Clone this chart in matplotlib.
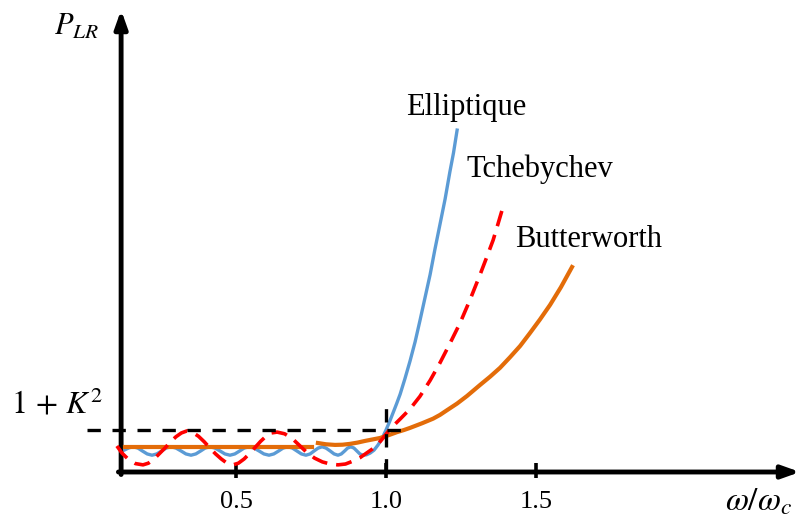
import matplotlib.pyplot as plt
import numpy as np

plt.rcParams['mathtext.fontset'] = 'stix'

# eje x: w/wc , eje y: P_LR (unidades arbitrarias, nivel 1+K^2 = 1)
w_eliptico = [0.13, 0.143, 0.157, 0.173, 0.188, 0.204, 0.22, 0.236, 0.252, 0.267,
              0.283, 0.3, 0.317, 0.333, 0.35, 0.366, 0.382, 0.397, 0.413, 0.43,
              0.447, 0.463, 0.48, 0.496, 0.512, 0.527, 0.543, 0.56, 0.577, 0.593,
              0.61, 0.626, 0.642, 0.657, 0.673, 0.688, 0.703, 0.718, 0.733, 0.747,
              0.76, 0.774, 0.787, 0.8, 0.814, 0.827, 0.84, 0.851, 0.862, 0.872,
              0.883, 0.893, 0.903, 0.913, 0.923, 0.935, 0.947, 0.96, 0.973, 0.987,
              1.0, 1.012, 1.023, 1.035, 1.047, 1.063, 1.08, 1.097, 1.113, 1.13,
              1.147, 1.163, 1.18, 1.197, 1.213, 1.225, 1.237]
p_eliptico = [0.53, 0.575, 0.6, 0.57, 0.5, 0.43, 0.4, 0.43, 0.5, 0.57,
              0.6, 0.57, 0.5, 0.43, 0.4, 0.43, 0.5, 0.57, 0.6, 0.57,
              0.5, 0.43, 0.4, 0.43, 0.5, 0.57, 0.6, 0.57, 0.5, 0.43,
              0.4, 0.43, 0.5, 0.57, 0.6, 0.57, 0.5, 0.43, 0.4, 0.43,
              0.5, 0.57, 0.6, 0.57, 0.5, 0.43, 0.4, 0.43, 0.5, 0.57,
              0.6, 0.57, 0.5, 0.43, 0.4, 0.41, 0.45, 0.52, 0.64, 0.8,
              1.0, 1.2, 1.4, 1.62, 1.85, 2.22, 2.64, 3.1, 3.6, 4.15,
              4.7, 5.3, 5.9, 6.5, 7.15, 7.6, 8.14]

w_tcheby = [0.103, 0.12, 0.14, 0.165, 0.19, 0.208, 0.227, 0.245, 0.263, 0.282,
            0.3, 0.318, 0.337, 0.356, 0.375, 0.394, 0.413, 0.432, 0.451, 0.47,
            0.49, 0.508, 0.527, 0.545, 0.563, 0.582, 0.6, 0.618, 0.637, 0.662,
            0.687, 0.712, 0.737, 0.762, 0.788, 0.814, 0.84, 0.865, 0.89, 0.913,
            0.935, 0.955, 0.97, 0.987, 1.0, 1.013, 1.03, 1.047, 1.08, 1.113,
            1.147, 1.18, 1.213, 1.247, 1.28, 1.313, 1.335, 1.357, 1.373, 1.39]
p_tcheby = [0.62, 0.45, 0.31, 0.2, 0.17, 0.21, 0.31, 0.44, 0.57, 0.72,
            0.84, 0.93, 0.98, 0.94, 0.85, 0.72, 0.57, 0.43, 0.31, 0.21,
            0.17, 0.21, 0.31, 0.44, 0.58, 0.73, 0.85, 0.93, 0.95, 0.91,
            0.8, 0.63, 0.46, 0.33, 0.24, 0.19, 0.17, 0.19, 0.26, 0.34,
            0.45, 0.55, 0.64, 0.78, 0.9, 1.02, 1.14, 1.26, 1.5, 1.8,
            2.18, 2.6, 3.06, 3.55, 4.1, 4.69, 5.1, 5.52, 5.9, 6.31]

# Butterworth: tramo plano + tramo que sube
w_butter_plano = [0.13, 0.753]
p_butter_plano = [0.595, 0.595]
w_butter = [0.773, 0.8, 0.83, 0.855, 0.88, 0.905, 0.93, 0.955, 0.98, 1.01,
            1.037, 1.06, 1.08, 1.12, 1.157, 1.18, 1.203, 1.237, 1.27, 1.313,
            1.347, 1.38, 1.413, 1.447, 1.48, 1.513, 1.547, 1.583, 1.62]
p_butter = [0.69, 0.66, 0.645, 0.65, 0.67, 0.7, 0.74, 0.775, 0.81, 0.88,
            0.95, 1.0, 1.05, 1.16, 1.27, 1.36, 1.47, 1.63, 1.81, 2.07,
            2.27, 2.48, 2.73, 3.0, 3.31, 3.63, 3.98, 4.4, 4.88]

nivel = 1.0          # 1 + K^2
w_corte = 1.0
ticks = [0.5, 1.0, 1.5]
tick_labels = ['0.5', '1.0', '1.5']

azul = '#5B9BD5'
naranja = '#E36C09'
rojo = '#FF0000'
serif = 'Liberation Serif'

fig = plt.figure(figsize=(8.01, 5.17), dpi=100)
ax = fig.add_axes([0, 0, 1, 1])
ax.set_xlim(-0.2867, 2.3833)
ax.set_ylim(-1.0714, 11.238)
ax.axis('off')

# ejes con flecha
x0 = 0.117
flecha = dict(arrowstyle='-|>,head_length=0.7,head_width=0.25', color='k',
              lw=3.5, shrinkA=0, shrinkB=0, mutation_scale=15)
ax.annotate('', xy=(x0, 11.0), xytext=(x0, -0.06), arrowprops=flecha)
ax.annotate('', xy=(2.38, 0), xytext=(0.108, 0), arrowprops=flecha)
for t, lab in zip(ticks, tick_labels):
    ax.plot([t, t], [-0.14, 0.21], color='k', lw=2.6, solid_capstyle='butt')
    ax.text(t, -0.86, lab, ha='center', va='baseline', fontsize=19, family=serif)

# curvas
ax.plot(w_eliptico, p_eliptico, color=azul, lw=2.4, zorder=3)
ax.plot(w_butter_plano, p_butter_plano, color=naranja, lw=3, zorder=4)
ax.plot(w_butter, p_butter, color=naranja, lw=3, zorder=4)
ax.plot(w_tcheby, p_tcheby, color=rojo, lw=2.6, dashes=(4.4, 2.5), zorder=5)

# lineas de referencia 1+K^2 y w=wc
ax.plot([0.003, 1.08], [nivel, nivel], color='k', lw=2.4, dashes=(4, 3.5), zorder=6)
ax.plot([w_corte, w_corte], [0, 1.6], color='k', lw=2.4, dashes=(4, 3.5), zorder=6)

# textos
ax.text(1.067, 8.5, 'Elliptique', fontsize=22, family=serif, va='baseline')
ax.text(1.267, 7.02, 'Tchebychev', fontsize=22, family=serif, va='baseline')
ax.text(1.43, 5.36, 'Butterworth', fontsize=22, family=serif, va='baseline')
ax.text(-0.097, 1.6, r'$1\,+\,K^2$', fontsize=23, ha='center', va='center')
ax.text(-0.033, 10.62, r'$P_{LR}$', fontsize=22, ha='center', va='center')
ax.text(2.13, -0.905, r'$\omega/\omega_c$', fontsize=24, ha='left', va='baseline')

fig.savefig('out.png', dpi=100)
